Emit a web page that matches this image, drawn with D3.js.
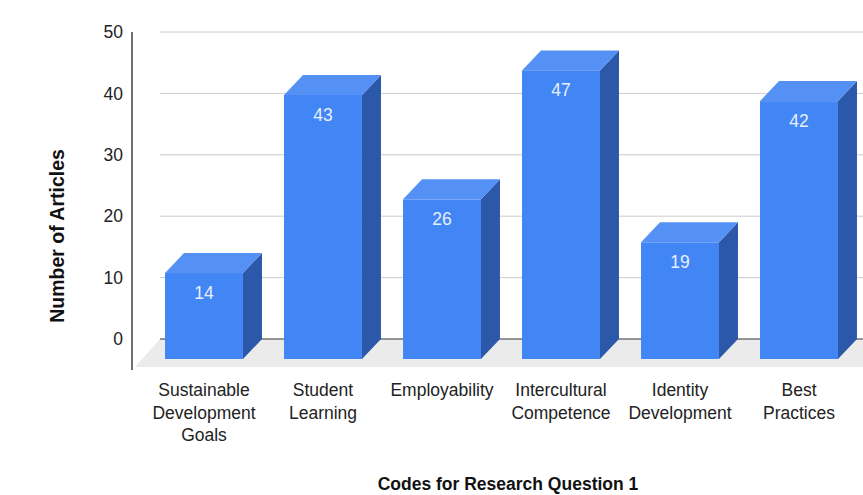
<!DOCTYPE html>
<html><head><meta charset="utf-8">
<script src="https://cdn.jsdelivr.net/npm/d3@7"></script>
<style>body{margin:0;background:#fff;} text{font-family:"Liberation Sans",Arial,sans-serif;}</style>
</head><body>
<svg id="c" width="863" height="495"></svg>
<script>
const categories = [["Sustainable","Development","Goals"],["Student","Learning"],["Employability"],["Intercultural","Competence"],["Identity","Development"],["Best","Practices"]];
const values = [14, 43, 26, 47, 19, 42];
const yTicks = [0, 10, 20, 30, 40, 50];
const xTitle = "Codes for Research Question 1";
const yTitle = "Number of Articles";

const svg = d3.select("#c");
const W = 863;
const dx = 19, dy = -20;          // bar depth offset
const wallLeft = 160, floorFront = 367, axisX = 132;
const y = d3.scaleLinear().domain([0, 50]).range([339, 32]);
const keys = categories.map((c, i) => i);
const x = d3.scaleBand().domain(keys).range([144.5, 144.5 + 6 * 119]).paddingInner(0.345).paddingOuter(0.1725);

// floor
svg.append("polygon")
  .attr("points", [[wallLeft, y(0)], [W, y(0)], [W, floorFront], [wallLeft - 25, floorFront]].map(p => p.join(",")).join(" "))
  .attr("fill", "#ebebeb");

// gridlines on back wall
svg.append("g").selectAll("line").data(yTicks).join("line")
  .attr("x1", wallLeft).attr("x2", W)
  .attr("y1", d => y(d)).attr("y2", d => y(d))
  .attr("stroke", d => d === 0 ? "#333" : "#cccccc").attr("stroke-width", 1);

// y axis labels via d3 axis
const ax = svg.append("g").attr("transform", `translate(${axisX},0)`)
  .call(d3.axisLeft(y).tickValues(yTicks).tickSize(0).tickPadding(9));
ax.select(".domain").remove();
ax.selectAll("text").attr("font-size", 17.5).attr("fill", "#222").attr("font-family", "'Liberation Sans',Arial,sans-serif");
svg.append("line").attr("x1", axisX).attr("x2", axisX).attr("y1", y(50)).attr("y2", floorFront + 3).attr("stroke", "#111").attr("stroke-width", 1.2);

// bars
const bw = x.bandwidth();
const g = svg.append("g");
values.forEach((v, i) => {
  const xl = x(i), xr = xl + bw;
  const yt = y(v) - dy, yb = y(0) - dy;   // front face
  g.append("polygon").attr("points", [[xr, yt], [xr + dx, yt + dy], [xr + dx, yb + dy], [xr, yb]].map(p => p.join(",")).join(" "))
    .attr("fill", "#2b58a8");
  g.append("polygon").attr("points", [[xl, yt], [xl + dx, yt + dy], [xr + dx, yt + dy], [xr, yt]].map(p => p.join(",")).join(" "))
    .attr("fill", "#5590f5");
  g.append("rect").attr("x", xl).attr("y", yt).attr("width", bw).attr("height", yb - yt).attr("fill", "#4285f4");
  g.append("text").attr("x", xl + bw / 2).attr("y", yt + 26).attr("text-anchor", "middle")
    .attr("font-size", 17.5).attr("fill", "#e8f0fe").text(v);
});

// category labels
const cl = svg.append("g");
categories.forEach((lines, i) => {
  const t = cl.append("text").attr("x", x(i) + bw / 2).attr("y", 396).attr("text-anchor", "middle")
    .attr("font-size", 17.5).attr("fill", "#222");
  lines.forEach((l, k) => t.append("tspan").attr("x", x(i) + bw / 2).attr("dy", k === 0 ? 0 : 22.5).text(l));
});

svg.append("text").attr("x", 508).attr("y", 490).attr("text-anchor", "middle")
  .attr("font-size", 17.5).attr("font-weight", "bold").attr("fill", "#111").text(xTitle);
svg.append("text").attr("transform", "translate(64,236) rotate(-90)").attr("text-anchor", "middle")
  .attr("font-size", 19.5).attr("font-weight", "bold").attr("fill", "#111").text(yTitle);
</script>
</body></html>
